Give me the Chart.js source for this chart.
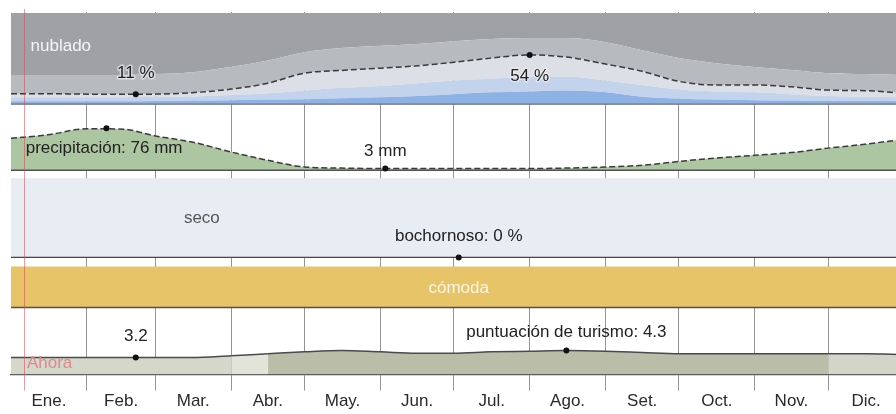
<!DOCTYPE html>
<html lang="es">
<head>
<meta charset="utf-8">
<script src="https://cdn.jsdelivr.net/npm/chart.js@4.4.1/dist/chart.umd.min.js"></script>
<style>
  html, body { margin: 0; padding: 0; background: #fff; overflow: hidden; }
  #wrap { width: 896px; height: 414px; overflow: hidden; }
  canvas { display: block; }
</style>
</head>
<body>
<div id="wrap"><canvas id="chart" width="908" height="414"></canvas></div>
<script>
// x axis is the day of the year
const monthLabels = ['Ene.', 'Feb.', 'Mar.', 'Abr.', 'May.', 'Jun.', 'Jul.', 'Ago.', 'Set.', 'Oct.', 'Nov.', 'Dic.'];
const monthStarts = [0, 31, 59, 90, 120, 151, 181, 212, 243, 273, 304, 334, 365];
const monthMids = [15.5, 45, 74.5, 105, 135.5, 166, 196.5, 227.5, 258, 288.5, 319, 349.5];
const days = [0, 15, 31, 46, 59, 74, 90, 105, 120, 135, 151, 166, 181, 196, 212, 227, 243, 258, 273, 288, 304, 319, 334, 349, 365];

// nubosidad, % acumulado desde abajo
const cloudClear       = [3.3, 3.3, 3.3, 3.3, 3.5, 4, 4.4, 5, 5.5, 6.5, 7.5, 9, 11, 13, 14, 15, 13, 8, 6, 5, 4.4, 4, 3.6, 3.4, 3.3];
const cloudMostlyClear = [7.7, 7.7, 7.7, 7.7, 8, 8.5, 10, 12, 15, 18, 20, 23, 26, 28, 30, 30, 26, 21, 16, 14, 13, 11, 9, 8, 7.7];
const cloudPartly      = [11.5, 11.5, 11, 11, 11, 12.6, 16.5, 23, 34, 37, 39.5, 42, 46, 50.5, 54, 51.6, 44, 36, 25, 21, 21, 19, 15.4, 14.8, 12];
const cloudMostly      = [32, 32, 32, 32, 33, 35, 41, 48, 57, 61.5, 64, 66, 69, 71.4, 72.5, 72.5, 68, 59, 50.5, 45, 40.7, 37.4, 34, 33, 32];
const cloudOvercast    = [100, 100, 100, 100, 100, 100, 100, 100, 100, 100, 100, 100, 100, 100, 100, 100, 100, 100, 100, 100, 100, 100, 100, 100, 100];

const precipMm = [58, 64, 75, 74, 62, 51, 33, 18, 6, 4, 3, 3, 3, 3, 3, 4, 6, 9, 16, 22, 27, 32, 40, 47, 56];
const muggyPct = [0, 0, 0, 0, 0, 0, 0, 0, 0, 0, 0, 0, 0, 0, 0, 0, 0, 0, 0, 0, 0, 0, 0, 0, 0];
const dryPct = cloudOvercast;
const comfortPct = cloudOvercast;
const baseline = muggyPct;
const tourismScore = [3.2, 3.2, 3.2, 3.2, 3.2, 3.2, 3.5, 3.8, 4.1, 4.3, 4.1, 3.9, 3.9, 4.1, 4.2, 4.3, 4.2, 4.0, 3.8, 3.8, 3.8, 3.8, 3.8, 3.8, 3.7];

// marked extremes: [day, value]
const cloudMarks = [[51, 11], [212, 54]];
const precipMarks = [[39, 76], [153, 3]];
const muggyMarks = [[183, 0]];
const tourismMarks = [[51, 3.2], [227, 4.3]];
const nowDay = 5.3;

const tourismFill = ['#d5d7ca', '#d5d7ca', '#d5d7ca', '#d5d7ca', '#d5d7ca', '#d5d7ca', '#e2e4da',
  '#babda8', '#babda8', '#babda8', '#babda8', '#babda8', '#babda8', '#babda8', '#babda8', '#babda8',
  '#babda8', '#babda8', '#babda8', '#babda8', '#babda8', '#babda8', '#d3d5c7', '#d3d5c7'];

const FONT = '"Liberation Sans", Arial, sans-serif';

const pts = vals => days.map((d, i) => ({ x: d, y: vals[i] }));
const marks = list => list.map(([x, y]) => ({ x, y }));

function area(vals, axis, fill, bg, extra) {
  return Object.assign({ data: pts(vals), yAxisID: axis, fill, backgroundColor: bg, borderWidth: 0,
    pointRadius: 0, cubicInterpolationMode: 'monotone' }, extra || {});
}
function rule(axis, color) {
  return { data: pts(baseline), yAxisID: axis, fill: false, borderColor: color, borderWidth: 1.3, pointRadius: 0, order: -1 };
}
function dots(list, axis) {
  return { data: marks(list), yAxisID: axis, showLine: false, pointRadius: 3, pointBackgroundColor: '#111',
    pointBorderWidth: 0, order: -2 };
}
const dashed = { borderColor: '#3a3a3a', borderWidth: 1.5, borderDash: [6, 3] };

const labels = [
  { text: 'nublado', x: 8, y: 63, axis: 'yCloud', align: 'left', color: '#f5f5f5' },
  { text: '11 %', x: 51, y: 11, dy: -21, axis: 'yCloud', halo: 'rgba(235,237,240,0.7)' },
  { text: '54 %', x: 212, y: 54, dy: 21, axis: 'yCloud', halo: 'rgba(235,237,240,0.7)' },
  { text: 'precipitación: 76 mm', x: 6, y: 40, axis: 'yPrecip', align: 'left' },
  { text: '3 mm', x: 153, y: 3, dy: -17, axis: 'yPrecip' },
  { text: 'seco', x: 78, y: 50, axis: 'yHum', color: '#555' },
  { text: 'bochornoso: 0 %', x: 183, y: 0, dy: -21, axis: 'yHum' },
  { text: 'cómoda', x: 183, y: 46, axis: 'yComf', color: '#fbf6e8' },
  { text: '3.2', x: 51, y: 3.2, dy: -21, axis: 'yTour' },
  { text: 'puntuación de turismo: 4.3', x: 227, y: 4.3, dy: -18, axis: 'yTour' },
  { text: 'Ahora', x: 6.5, y: 2.26, axis: 'yTour', align: 'left', color: '#de8a8d' }
];

const labelPlugin = {
  id: 'bandLabels',
  afterDraw(chart) {
    const ctx = chart.ctx;
    const xs = chart.scales.x;
    const area = chart.chartArea;
    ctx.save();
    const nx = Math.round(xs.getPixelForValue(nowDay)) + 0.5;
    ctx.strokeStyle = 'rgba(212,72,88,0.55)';
    ctx.lineWidth = 1;
    ctx.beginPath();
    ctx.moveTo(nx, area.top - 3);
    ctx.lineTo(nx, area.bottom + 16);
    ctx.stroke();
    ctx.font = '17px ' + FONT;
    ctx.textBaseline = 'middle';
    labels.forEach(l => {
      const px = xs.getPixelForValue(l.x);
      const py = chart.scales[l.axis].getPixelForValue(l.y) + (l.dy || 0);
      ctx.textAlign = l.align || 'center';
      if (l.halo) {
        ctx.strokeStyle = l.halo;
        ctx.lineWidth = 3;
        ctx.lineJoin = 'round';
        ctx.strokeText(l.text, px, py);
      }
      ctx.fillStyle = l.color || '#222';
      ctx.fillText(l.text, px, py);
    });
    ctx.restore();
  }
};

const band = (weight, h, min, max) => ({ type: 'linear', position: 'right', stack: 'bands', stackWeight: h,
  weight, min, max, display: false });

new Chart(document.getElementById('chart'), {
  type: 'line',
  data: {
    datasets: [
      area(cloudClear, 'yCloud', 'origin', '#8fb2e6'),
      area(cloudMostlyClear, 'yCloud', '-1', '#c4d3ec'),
      area(cloudPartly, 'yCloud', '-1', '#dcdfe5', dashed),
      area(cloudMostly, 'yCloud', '-1', '#b7babf'),
      area(cloudOvercast, 'yCloud', '-1', '#9fa1a5'),
      rule('yCloud', '#6e7074'),
      area(precipMm, 'yPrecip', 'origin', '#abc6a0', dashed),
      rule('yPrecip', '#505050'),
      area(muggyPct, 'yHum', false, 'transparent', { borderColor: '#454545', borderWidth: 1.3, order: -1 }),
      area(dryPct, 'yHum', '-1', '#e7edf2'),
      area(comfortPct, 'yComf', 'origin', '#e6c467'),
      rule('yComf', '#505050'),
      area(tourismScore, 'yTour', 'origin', '#babda8', {
        borderColor: '#4a4a4a', borderWidth: 1.5,
        segment: { backgroundColor: c => tourismFill[c.p0DataIndex] }
      }),
      dots(cloudMarks, 'yCloud'),
      dots(precipMarks, 'yPrecip'),
      dots(muggyMarks, 'yHum'),
      dots(tourismMarks, 'yTour')
    ]
  },
  options: {
    responsive: false,
    animation: false,
    devicePixelRatio: 1,
    layout: { padding: { top: 12, left: 11, right: 1, bottom: 1 } },
    plugins: { legend: { display: false }, tooltip: { enabled: false } },
    scales: {
      x: {
        type: 'linear', min: 0, max: 365, z: 1,
        afterBuildTicks: s => { s.ticks = monthStarts.concat(monthMids).sort((a, b) => a - b).map(v => ({ value: v })); },
        grid: {
          color: c => (c.tick && monthStarts.includes(c.tick.value) && c.tick.value > 0 && c.tick.value < 365) ? 'rgba(0,0,0,0.42)' : 'transparent',
          tickLength: 16, lineWidth: 1
        },
        border: { display: true, color: '#505050', width: 1.3 },
        ticks: {
          autoSkip: false, maxRotation: 0, padding: 1, color: '#2a2a2a', font: { family: FONT, size: 17 },
          callback: v => { const i = monthMids.indexOf(v); return i >= 0 ? monthLabels[i] : ''; }
        }
      },
      yCloud: band(1, 93, -1.1, 101.1),
      yPrecip: band(2, 67, -3.6, 117.6),
      yHum: band(3, 89, -5.06, 107.6),
      yComf: band(4, 48, -4.88, 112.2),
      yTour: band(5, 65, 0.53, 10.75)
    }
  },
  plugins: [labelPlugin]
});
</script>
</body>
</html>
